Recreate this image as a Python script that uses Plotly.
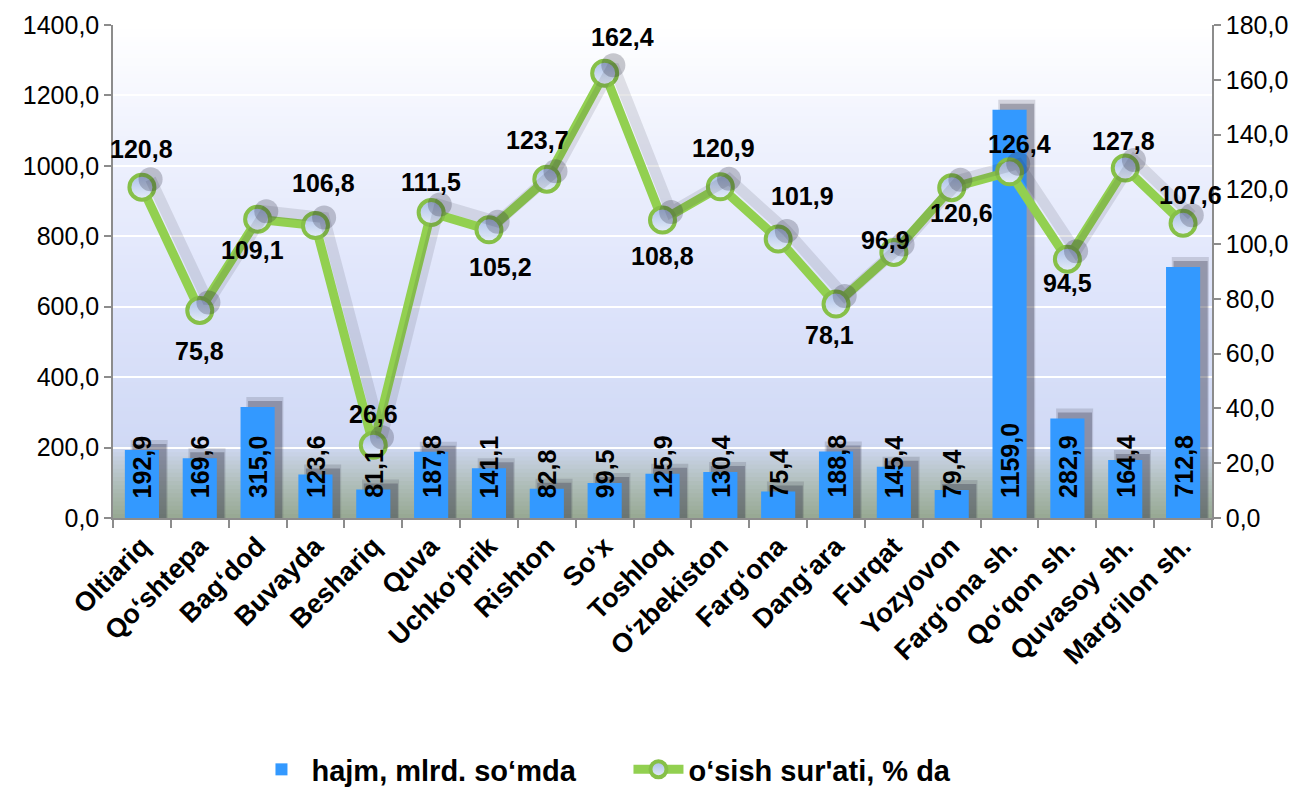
import plotly.graph_objects as go

# ---------------- data ----------------
categories = ["Oltiariq", "Qo‘shtepa", "Bag‘dod", "Buvayda", "Beshariq", "Quva",
              "Uchko‘prik", "Rishton", "So‘x", "Toshloq", "O‘zbekiston", "Farg‘ona",
              "Dang‘ara", "Furqat", "Yozyovon", "Farg‘ona sh.", "Qo‘qon sh.",
              "Quvasoy sh.", "Marg‘ilon sh."]
volume = [192.9, 169.6, 315.0, 123.6, 81.1, 187.8, 141.1, 82.8, 99.5, 125.9,
          130.4, 75.4, 188.8, 145.4, 79.4, 1159.0, 282.9, 164.4, 712.8]
growth = [120.8, 75.8, 109.1, 106.8, 26.6, 111.5, 105.2, 123.7, 162.4, 108.8,
          120.9, 101.9, 78.1, 96.9, 120.6, 126.4, 94.5, 127.8, 107.6]
series_names = ["hajm, mlrd. so‘mda", "o‘sish sur'ati, % da"]
left_ticks = [0, 200, 400, 600, 800, 1000, 1200, 1400]
right_ticks = [0, 20, 40, 60, 80, 100, 120, 140, 160, 180]

# ---------------- styling ----------------
FONT = "Liberation Sans, Arial, sans-serif"
BAR_COLOR = "#3399FF"
LINE_COLOR = "#92D050"
AXIS_COLOR = "#8C8C8C"
BAR_WIDTH = 0.59
# the page body keeps its default 8px margin, so the figure is 16px smaller
FIG_W, FIG_H = 1290, 787
# label offsets (px) of the growth labels relative to their markers (dx, dy up)
label_offsets = [(0, 38), (0, -41), (-5, -31), (8, 42), (0, 31), (0, 31), (12, -37),
                 (-9, 39), (18, 36), (0, -36), (3, 39), (24, 43), (-7, -31), (-8, 13),
                 (10, -25), (10, 28), (0, -24), (-2, 27), (7, 28)]

def fmt(v):
    return f"{v:.1f}".replace(".", ",")

n = len(categories)
idx = list(range(n))
Y1MAX, Y2MAX = 1400, 180
PLOT_H = 493.0

fig = go.Figure()

# bar shadows
fig.add_trace(go.Bar(
    x=categories, y=[v + 10 * Y1MAX / PLOT_H for v in volume],
    width=BAR_WIDTH + 0.05, offset=-BAR_WIDTH / 2 + 0.1,
    marker=dict(color="rgba(60,60,80,0.18)", line=dict(width=0)),
    showlegend=False, hoverinfo="skip"))
fig.add_trace(go.Bar(
    x=categories, y=[v + 6 * Y1MAX / PLOT_H for v in volume],
    width=BAR_WIDTH, offset=-BAR_WIDTH / 2 + 0.13,
    marker=dict(color="rgba(50,50,70,0.32)", line=dict(width=0)),
    showlegend=False, hoverinfo="skip"))

# bars
fig.add_trace(go.Bar(
    x=categories, y=volume, name=series_names[0],
    width=BAR_WIDTH, offset=-BAR_WIDTH / 2,
    marker=dict(color=BAR_COLOR, line=dict(width=0))))

# line shadow (numeric overlay axis)
fig.add_trace(go.Scatter(
    x=[i + 0.15 for i in idx], y=[g + 8 * Y2MAX / PLOT_H for g in growth],
    xaxis="x3", yaxis="y2", mode="lines+markers",
    line=dict(color="rgba(40,40,60,0.12)", width=11),
    marker=dict(size=24, color="rgba(40,40,60,0.25)"),
    showlegend=False, hoverinfo="skip"))

# growth line
fig.add_trace(go.Scatter(
    x=categories, y=growth, name=series_names[1], yaxis="y2",
    mode="lines+markers",
    line=dict(color=LINE_COLOR, width=9),
    marker=dict(size=25, color="#a9bfe8",
                gradient=dict(type="vertical", color="#e6edf9"),
                line=dict(color="#86C048", width=4))))

# background gradient
stops = [(0.0, (150, 168, 146)), (0.07, (176, 190, 186)), (0.15, (208, 217, 245)),
         (0.45, (222, 228, 251)), (0.75, (238, 241, 253)), (1.0, (255, 255, 255))]

def grad(f):
    for (a, ca), (b, cb) in zip(stops[:-1], stops[1:]):
        if a <= f <= b:
            t = (f - a) / (b - a)
            return tuple(round(ca[k] + (cb[k] - ca[k]) * t) for k in range(3))
    return stops[-1][1]

shapes = []
N = 120
for k in range(N):
    f0, f1 = k / N, (k + 1) / N
    c = grad((f0 + f1) / 2)
    shapes.append(dict(type="rect", xref="paper", yref="paper",
                       x0=0, x1=1, y0=f0, y1=f1 + 0.002,
                       fillcolor=f"rgb{c}", line=dict(width=0), layer="below"))

annotations = []
# bar value labels
for c, v in zip(categories, volume):
    annotations.append(dict(x=c, y=0, xref="x", yref="y", text=fmt(v),
                            textangle=-90, showarrow=False, yanchor="bottom",
                            xanchor="center", yshift=18,
                            font=dict(family=FONT, size=25, color="black", weight="bold")))
# growth labels
for c, g, (dx, dy) in zip(categories, growth, label_offsets):
    annotations.append(dict(x=c, y=g, xref="x", yref="y2", text=fmt(g),
                            showarrow=False, xanchor="center", yanchor="middle",
                            xshift=dx, yshift=dy,
                            font=dict(family=FONT, size=25, color="black", weight="bold")))

fig.update_layout(
    width=FIG_W, height=FIG_H,
    margin=dict(l=105, r=86, t=17, b=277, pad=0, autoexpand=False),
    paper_bgcolor="white", plot_bgcolor="rgba(0,0,0,0)",
    barmode="overlay",
    separators=", ",
    font=dict(family=FONT, color="black"),
    shapes=shapes, annotations=annotations,
    showlegend=True,
    legend=dict(orientation="h", x=0.126, xanchor="left",
                yref="container", y=0.0, yanchor="bottom",
                font=dict(family=FONT, size=29, color="black", weight="bold"),
                itemwidth=50, entrywidth=312, bgcolor="rgba(0,0,0,0)"),
    xaxis=dict(type="category", tickson="boundaries", ticks="outside", ticklen=8,
               tickcolor=AXIS_COLOR, tickwidth=1.5, showline=True, linecolor=AXIS_COLOR,
               linewidth=1.5, tickangle=-45, showgrid=False, automargin=False,
               tickfont=dict(family=FONT, size=27, color="black", weight="bold"),
               range=[-0.5, n - 0.5]),
    xaxis3=dict(overlaying="x", range=[-0.5, n - 0.5], visible=False, automargin=False),
    yaxis=dict(range=[0, Y1MAX], tickvals=left_ticks, tickformat=".1f",
               ticks="outside", ticklen=7, tickcolor=AXIS_COLOR, tickwidth=1.5,
               showline=True, linecolor=AXIS_COLOR, linewidth=1.5, automargin=False,
               showgrid=True, gridcolor="white", gridwidth=2, zeroline=False,
               tickfont=dict(family=FONT, size=25, color="black")),
    yaxis2=dict(range=[0, Y2MAX], tickvals=right_ticks, tickformat=".1f",
                overlaying="y", side="right", automargin=False,
                ticks="outside", ticklen=7, tickcolor=AXIS_COLOR, tickwidth=1.5,
                showline=True, linecolor=AXIS_COLOR, linewidth=1.5,
                showgrid=False, zeroline=False,
                tickfont=dict(family=FONT, size=25, color="black")),
)

fig.write_html("out.html")
